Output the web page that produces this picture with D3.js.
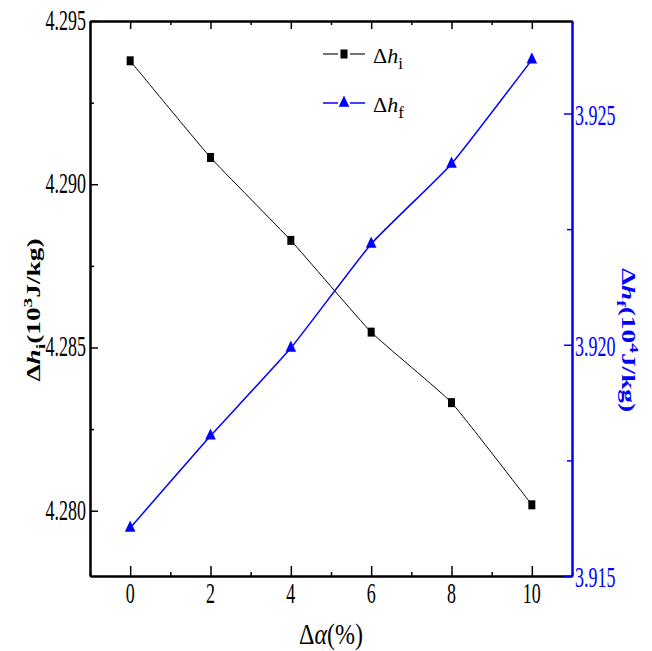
<!DOCTYPE html>
<html>
<head>
<meta charset="utf-8">
<script src="https://cdn.jsdelivr.net/npm/d3@7"></script>
<style>
  body { margin: 0; background: #fff; }
  svg { display: block; }
  text { font-family: "Liberation Serif", "Times New Roman", serif; }
</style>
</head>
<body>
<div id="chart"></div>
<script>
'use strict';

// Data
var alpha = [0, 2, 4, 6, 8, 10];
var dhI = [4.29378, 4.29082, 4.28828, 4.28547, 4.28331, 4.28018];
var dhF = [3.91604, 3.91803, 3.91993, 3.92218, 3.92391, 3.92616];
var xTicks = [0, 2, 4, 6, 8, 10];
var xMinor = [-1, 1, 3, 5, 7, 9, 11];
var leftTicks = [4.280, 4.285, 4.290, 4.295];
var leftMinor = [4.2825, 4.2875, 4.2925];
var rightTicks = [3.915, 3.920, 3.925];
var rightMinor = [3.9175, 3.9225];

var W = 652, H = 651;
var L = 90, R = 572, T = 21, B = 576;
var BLUE = '#0000ff';

var svg = d3.select('#chart').append('svg').attr('width', W).attr('height', H);

var x = d3.scaleLinear().domain([-1, 11]).range([L, R]);
var yL = d3.scaleLinear().domain([4.278, 4.295]).range([B, T]);
var yR = d3.scaleLinear().domain([3.915, 3.927]).range([B, T]);

// condensed text helper (the figure's type is squashed horizontally)
function ctext(parent, px, py, str, anchor, size, sx, color) {
  return parent.append('text')
    .attr('transform', 'translate(' + px + ',' + py + ') scale(' + sx + ',1)')
    .attr('text-anchor', anchor)
    .attr('font-size', size)
    .attr('fill', color || '#000')
    .text(str);
}

function styleAxis(sel, color) {
  sel.selectAll('path.domain').attr('stroke', color).attr('stroke-width', 2);
  sel.selectAll('.tick line').attr('stroke', color).attr('stroke-width', 1.5);
  sel.selectAll('.tick text').remove();
}

// ── Axes ─────────────────────────────────────────
var gB = svg.append('g').attr('transform', 'translate(0,' + B + ')')
  .call(d3.axisBottom(x).tickValues(xTicks).tickSize(-10).tickSizeOuter(0).tickFormat(''));
styleAxis(gB, '#000');
var gBm = svg.append('g').attr('transform', 'translate(0,' + B + ')')
  .call(d3.axisBottom(x).tickValues(xMinor).tickSize(-4).tickSizeOuter(0).tickFormat(''));
styleAxis(gBm, '#000');

var gT = svg.append('g').attr('transform', 'translate(0,' + T + ')')
  .call(d3.axisTop(x).tickValues(xTicks).tickSize(-8).tickSizeOuter(0).tickFormat(''));
styleAxis(gT, '#000');
var gTm = svg.append('g').attr('transform', 'translate(0,' + T + ')')
  .call(d3.axisTop(x).tickValues(xMinor).tickSize(-4).tickSizeOuter(0).tickFormat(''));
styleAxis(gTm, '#000');

var gL = svg.append('g').attr('transform', 'translate(' + L + ',0)')
  .call(d3.axisLeft(yL).tickValues(leftTicks).tickSize(-8).tickSizeOuter(0).tickFormat(''));
styleAxis(gL, '#000');
var gLm = svg.append('g').attr('transform', 'translate(' + L + ',0)')
  .call(d3.axisLeft(yL).tickValues(leftMinor).tickSize(-4).tickSizeOuter(0).tickFormat(''));
styleAxis(gLm, '#000');

var gR = svg.append('g').attr('transform', 'translate(' + R + ',0)')
  .call(d3.axisRight(yR).tickValues(rightTicks).tickSize(-8).tickSizeOuter(0).tickFormat(''));
styleAxis(gR, BLUE);
var gRm = svg.append('g').attr('transform', 'translate(' + R + ',0)')
  .call(d3.axisRight(yR).tickValues(rightMinor).tickSize(-5).tickSizeOuter(0).tickFormat(''));
styleAxis(gRm, BLUE);

// ── Tick labels ──────────────────────────────────
xTicks.forEach(function (v) { ctext(svg, x(v), 603, String(v), 'middle', 30, 0.6); });
leftTicks.forEach(function (v) { ctext(svg, 86, yL(v) + 9, d3.format('.3f')(v), 'end', 30, 0.6); });
rightTicks.forEach(function (v) { ctext(svg, 575, yR(v) + 11, d3.format('.3f')(v), 'start', 30, 0.6, BLUE); });

// ── Axis titles ──────────────────────────────────
var xt = svg.append('text')
  .attr('transform', 'translate(331,644) scale(0.8,1)')
  .attr('text-anchor', 'middle').attr('font-size', 30);
xt.append('tspan').text('Δ');
xt.append('tspan').attr('font-style', 'italic').text('α');
xt.append('tspan').text('(%)');

var lt = svg.append('text')
  .attr('transform', 'translate(40,310) rotate(-90) scale(1.3,0.9)')
  .attr('text-anchor', 'middle').attr('font-size', 21).attr('font-weight', 'bold');
lt.append('tspan').text('Δ');
lt.append('tspan').attr('font-style', 'italic').text('h');
lt.append('tspan').attr('font-size', 15).attr('dy', 5).text('i');
lt.append('tspan').attr('dy', -5).text('(10');
lt.append('tspan').attr('font-size', 15).attr('dy', -9).text('3');
lt.append('tspan').attr('dy', 9).text('J/kg)');

var rt = svg.append('text')
  .attr('transform', 'translate(622,340) rotate(90) scale(1.3,0.9)')
  .attr('text-anchor', 'middle').attr('font-size', 21).attr('font-weight', 'bold').attr('fill', BLUE);
rt.append('tspan').text('Δ');
rt.append('tspan').attr('font-style', 'italic').text('h');
rt.append('tspan').attr('font-size', 15).attr('dy', 5).text('f');
rt.append('tspan').attr('dy', -5).text('(10');
rt.append('tspan').attr('font-size', 15).attr('dy', -9).text('4');
rt.append('tspan').attr('dy', 9).text('J/kg)');

// ── Series ───────────────────────────────────────
var curve = d3.curveCardinal.tension(0.6);
var lineI = d3.line().curve(curve)
  .x(function (d, i) { return x(alpha[i]); })
  .y(function (d) { return yL(d); });
var lineF = d3.line().curve(curve)
  .x(function (d, i) { return x(alpha[i]); })
  .y(function (d) { return yR(d); });

svg.append('path').datum(dhI).attr('d', lineI)
  .attr('fill', 'none').attr('stroke', '#000').attr('stroke-width', 1);
svg.append('path').datum(dhF).attr('d', lineF)
  .attr('fill', 'none').attr('stroke', BLUE).attr('stroke-width', 1.5);

var tri = d3.symbol().type(d3.symbolTriangle).size(60);

svg.append('g').selectAll('rect').data(dhI).join('rect')
  .attr('x', function (d, i) { return x(alpha[i]) - 3.5; })
  .attr('y', function (d) { return yL(d) - 4.5; })
  .attr('width', 7).attr('height', 9).attr('fill', '#000');

svg.append('g').selectAll('path').data(dhF).join('path')
  .attr('d', tri)
  .attr('transform', function (d, i) { return 'translate(' + x(alpha[i]) + ',' + yR(d) + ') scale(0.9,1.1)'; })
  .attr('fill', BLUE);

// ── Legend ───────────────────────────────────────
var legend = [
  { name: 'i', color: '#000', y: 54, kind: 'sq' },
  { name: 'f', color: BLUE, y: 103, kind: 'tri' }
];
legend.forEach(function (d) {
  var lg = svg.append('g');
  lg.append('line').attr('x1', 323).attr('x2', 338).attr('y1', d.y).attr('y2', d.y)
    .attr('stroke', d.color === '#000' ? '#444' : BLUE).attr('stroke-width', 1.5);
  lg.append('line').attr('x1', 350).attr('x2', 365).attr('y1', d.y).attr('y2', d.y)
    .attr('stroke', d.color === '#000' ? '#444' : BLUE).attr('stroke-width', 1.5);
  if (d.kind === 'sq') {
    lg.append('rect').attr('x', 340.5).attr('y', d.y - 4.5).attr('width', 7).attr('height', 9).attr('fill', '#000');
  } else {
    lg.append('path').attr('d', tri).attr('transform', 'translate(344,' + d.y + ') scale(0.9,1.1)').attr('fill', BLUE);
  }
  var t = lg.append('text').attr('x', 373).attr('y', d.y + 9).attr('font-size', 22);
  t.append('tspan').text('Δ');
  t.append('tspan').attr('font-style', 'italic').text('h');
  t.append('tspan').attr('font-size', 17).attr('dy', 6).text(d.name);
});
</script>
</body>
</html>
